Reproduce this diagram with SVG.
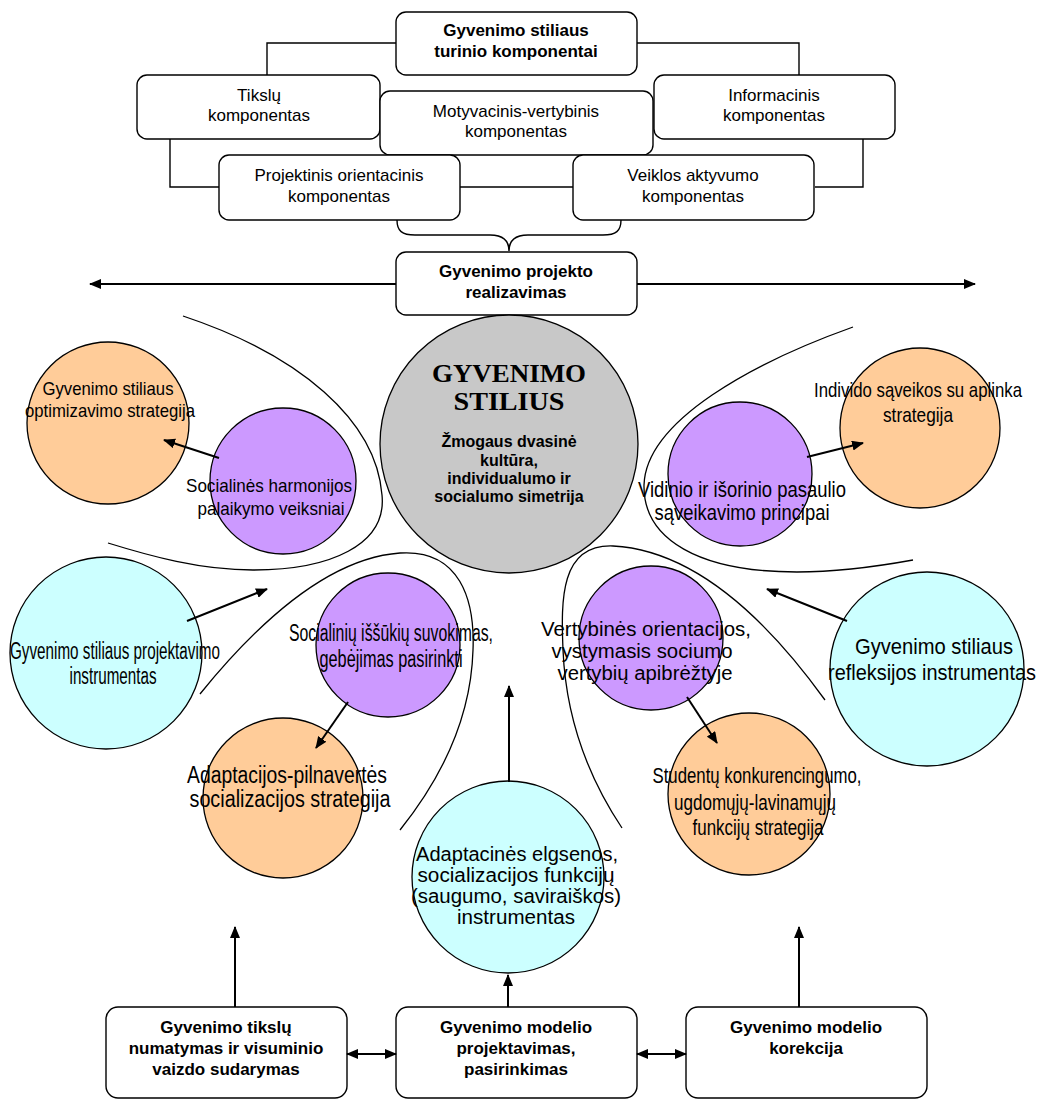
<svg xmlns="http://www.w3.org/2000/svg" width="1044" height="1102" viewBox="0 0 1044 1102">
<style>
.box{fill:#fff;stroke:#000;stroke-width:1.4}
.ln{fill:none;stroke:#000;stroke-width:1.4}
.cv{fill:none;stroke:#000;stroke-width:1.3}
.ar{fill:none;stroke:#000;stroke-width:2}
.c{stroke:#000;stroke-width:1.3}
.or{fill:#FFCC99}.pu{fill:#CC99FF}.cy{fill:#CCFFFF}.gr{fill:#C8C8C8}
text{font-family:"Liberation Sans",Arial,sans-serif;fill:#000;text-anchor:middle}
.bt{font-size:17px;font-weight:bold}
.rt{font-size:17px}
.ct{font-size:20px}
.big{font-family:"Liberation Serif","Times New Roman",serif;font-weight:bold;font-size:26px}
.sub{font-size:16px;font-weight:bold}
</style>
<defs>
<marker id="ah" viewBox="0 0 12 10" refX="11" refY="5" markerWidth="12" markerHeight="10" markerUnits="userSpaceOnUse" orient="auto-start-reverse"><path d="M0,0 L12,5 L0,10 z" fill="#000"/></marker>
</defs>

<g id="n-turinio"><rect class="box" x="396" y="12" width="241" height="63" rx="10"/>
<text class="bt" x="516" y="36">Gyvenimo stiliaus</text><text class="bt" x="516" y="57">turinio komponentai</text></g>
<g id="n-tikslu"><rect class="box" x="137" y="75" width="243" height="64" rx="10"/>
<text class="rt" x="259" y="101">Tikslų</text><text class="rt" x="259" y="121">komponentas</text></g>
<g id="n-informacinis"><rect class="box" x="654" y="75" width="241" height="64" rx="10"/>
<text class="rt" x="774" y="101">Informacinis</text><text class="rt" x="774" y="121">komponentas</text></g>
<g id="n-motyvacinis"><rect class="box" x="380" y="91" width="273" height="64" rx="10"/>
<text class="rt" x="516" y="117">Motyvacinis-vertybinis</text><text class="rt" x="516" y="137">komponentas</text></g>
<g id="n-projektinis"><rect class="box" x="219" y="155" width="241" height="65" rx="10"/>
<text class="rt" x="339" y="181">Projektinis orientacinis</text><text class="rt" x="339" y="202">komponentas</text></g>
<g id="n-veiklos"><rect class="box" x="573" y="155" width="241" height="65" rx="10"/>
<text class="rt" x="693" y="181">Veiklos aktyvumo</text><text class="rt" x="693" y="202">komponentas</text></g>
<g id="n-realizavimas"><rect class="box" x="396" y="252" width="241" height="63" rx="10"/>
<text class="bt" x="516" y="277">Gyvenimo projekto</text><text class="bt" x="516" y="298">realizavimas</text></g>

<g id="n-stilius"><circle class="c gr" cx="509" cy="444" r="129"/>
<text class="big" x="509" y="382" textLength="154" lengthAdjust="spacingAndGlyphs">GYVENIMO</text>
<text class="big" x="509" y="410" textLength="111" lengthAdjust="spacingAndGlyphs">STILIUS</text>
<text class="sub" x="509" y="447">Žmogaus dvasinė</text>
<text class="sub" x="509" y="466">kultūra,</text>
<text class="sub" x="509" y="484">individualumo ir</text>
<text class="sub" x="509" y="502">socialumo simetrija</text></g>

<g id="n-optimizavimo"><circle class="c or" cx="108" cy="423" r="81"/>
<text style="font-size:18.5px" x="108" y="395" textLength="131" lengthAdjust="spacingAndGlyphs">Gyvenimo stiliaus</text>
<text style="font-size:18.5px" x="110" y="417" textLength="170" lengthAdjust="spacingAndGlyphs">optimizavimo strategija</text></g>
<g id="n-harmonijos"><circle class="c pu" cx="283" cy="481" r="73"/>
<text style="font-size:19px" x="269" y="492" textLength="166" lengthAdjust="spacingAndGlyphs">Socialinės harmonijos</text>
<text style="font-size:19px" x="271" y="515" textLength="147" lengthAdjust="spacingAndGlyphs">palaikymo veiksniai</text></g>
<g id="n-vidinio"><circle class="c pu" cx="740" cy="474" r="72"/>
<text style="font-size:22.5px" x="742" y="497" textLength="208" lengthAdjust="spacingAndGlyphs">Vidinio ir išorinio pasaulio</text>
<text style="font-size:22.5px" x="742" y="520" textLength="175" lengthAdjust="spacingAndGlyphs">sąveikavimo principai</text></g>
<g id="n-individo"><circle class="c or" cx="920" cy="428" r="80"/>
<text style="font-size:21px" x="918" y="397" textLength="208" lengthAdjust="spacingAndGlyphs">Individo sąveikos su aplinka</text>
<text style="font-size:21px" x="918" y="422" textLength="70" lengthAdjust="spacingAndGlyphs">strategija</text></g>
<g id="n-projektavimo"><circle class="c cy" cx="106" cy="653" r="96"/>
<text style="font-size:23px" x="115" y="659" textLength="210" lengthAdjust="spacingAndGlyphs">Gyvenimo stiliaus projektavimo</text>
<text style="font-size:23px" x="113" y="684" textLength="87" lengthAdjust="spacingAndGlyphs">instrumentas</text></g>
<g id="n-issukiu"><circle class="c pu" cx="388" cy="645" r="72"/>
<text style="font-size:23px" x="391" y="641" textLength="204" lengthAdjust="spacingAndGlyphs">Socialinių iššūkių suvokimas,</text>
<text style="font-size:23px" x="391" y="667" textLength="143" lengthAdjust="spacingAndGlyphs">gebėjimas pasirinkti</text></g>
<g id="n-vertybines"><circle class="c pu" cx="651" cy="638" r="72"/>
<text class="ct" x="646" y="636" textLength="210" lengthAdjust="spacingAndGlyphs">Vertybinės orientacijos,</text>
<text class="ct" x="642" y="658" textLength="181" lengthAdjust="spacingAndGlyphs">vystymasis sociumo</text>
<text class="ct" x="645" y="680" textLength="175" lengthAdjust="spacingAndGlyphs">vertybių apibrėžtyje</text></g>
<g id="n-refleksijos"><circle class="c cy" cx="927" cy="669" r="97"/>
<text style="font-size:22px" x="934" y="654" textLength="158" lengthAdjust="spacingAndGlyphs">Gyvenimo stiliaus</text>
<text style="font-size:22px" x="932" y="680" textLength="208" lengthAdjust="spacingAndGlyphs">refleksijos instrumentas</text></g>
<g id="n-adaptacijos"><circle class="c or" cx="283" cy="798" r="80"/>
<text style="font-size:23px" x="287" y="783" textLength="200" lengthAdjust="spacingAndGlyphs">Adaptacijos-pilnavertės</text>
<text style="font-size:23px" x="290" y="807" textLength="201" lengthAdjust="spacingAndGlyphs">socializacijos strategija</text></g>
<g id="n-studentu"><circle class="c or" cx="749" cy="794" r="81"/>
<text style="font-size:22px" x="757" y="783" textLength="209" lengthAdjust="spacingAndGlyphs">Studentų konkurencingumo,</text>
<text style="font-size:22px" x="755" y="810" textLength="162" lengthAdjust="spacingAndGlyphs">ugdomųjų-lavinamųjų</text>
<text style="font-size:22px" x="758" y="835" textLength="131" lengthAdjust="spacingAndGlyphs">funkcijų strategija</text></g>
<g id="n-elgsenos"><circle class="c cy" cx="508" cy="877" r="96"/>
<text style="font-size:19.5px" x="517" y="861" textLength="202" lengthAdjust="spacingAndGlyphs">Adaptacinės elgsenos,</text>
<text style="font-size:19.5px" x="516" y="882" textLength="197" lengthAdjust="spacingAndGlyphs">socializacijos funkcijų</text>
<text style="font-size:19.5px" x="516" y="903" textLength="210" lengthAdjust="spacingAndGlyphs">(saugumo, saviraiškos)</text>
<text style="font-size:19.5px" x="516" y="924" textLength="118" lengthAdjust="spacingAndGlyphs">instrumentas</text></g>

<g id="n-tikslu-numatymas"><rect class="box" x="106" y="1007" width="241" height="91" rx="12"/>
<text class="bt" x="226" y="1033">Gyvenimo tikslų</text><text class="bt" x="226" y="1054">numatymas ir visuminio</text><text class="bt" x="226" y="1075">vaizdo sudarymas</text></g>
<g id="n-modelio-projektavimas"><rect class="box" x="396" y="1007" width="241" height="91" rx="12"/>
<text class="bt" x="516" y="1033">Gyvenimo modelio</text><text class="bt" x="516" y="1054">projektavimas,</text><text class="bt" x="516" y="1075">pasirinkimas</text></g>
<g id="n-korekcija"><rect class="box" x="686" y="1007" width="241" height="91" rx="12"/>
<text class="bt" x="806" y="1033">Gyvenimo modelio</text><text class="bt" x="806" y="1054">korekcija</text></g>

<g id="connectors">
<path class="ln" d="M396,43 H267 V75 M637,43 H799 V75 M170,139 V187 H219 M863,139 V187 H815 M460,187 H573"/>
<path class="ln" d="M397,220 C397,231 402,235 415,235 L490,235 C502,235 509,240 509,251 C509,240 516,235 528,235 L603,235 C616,235 621,231 621,220"/>
<line class="ar" x1="396" y1="284" x2="90" y2="284" marker-end="url(#ah)"/>
<line class="ar" x1="637" y1="284" x2="975" y2="284" marker-end="url(#ah)"/>
<path class="cv" d="M183,316 C300,355 376,420 382,495 C387,545 330,570 253,570 C200,570 150,556 108,543"/>
<path class="cv" d="M853,327 C755,362 646,420 644,485 C643,540 700,572 797,572 C840,572 880,566 913,560"/>
<path class="cv" d="M200,694 C260,620 330,558 400,553 C460,549 475,600 473,650 C471,720 440,780 400,830"/>
<path class="cv" d="M825,700 C760,610 690,550 613,546 C560,544 561,600 563,650 C566,720 590,780 622,828"/>
<line class="ar" x1="219" y1="458" x2="164" y2="440" marker-end="url(#ah)"/>
<line class="ar" x1="187" y1="621" x2="267" y2="589" marker-end="url(#ah)"/>
<line class="ar" x1="348" y1="702" x2="316" y2="748" marker-end="url(#ah)"/>
<line class="ar" x1="509" y1="782" x2="509" y2="686" marker-end="url(#ah)"/>
<line class="ar" x1="687" y1="697" x2="717" y2="743" marker-end="url(#ah)"/>
<line class="ar" x1="847" y1="621" x2="767" y2="589" marker-end="url(#ah)"/>
<line class="ar" x1="807" y1="457" x2="863" y2="443" marker-end="url(#ah)"/>
<line class="ar" x1="235" y1="1007" x2="235" y2="927" marker-end="url(#ah)"/>
<line class="ar" x1="508" y1="1007" x2="508" y2="975" marker-end="url(#ah)"/>
<line class="ar" x1="799" y1="1007" x2="799" y2="927" marker-end="url(#ah)"/>
<line class="ar" x1="347" y1="1054" x2="396" y2="1054" marker-start="url(#ah)" marker-end="url(#ah)"/>
<line class="ar" x1="637" y1="1054" x2="686" y2="1054" marker-start="url(#ah)" marker-end="url(#ah)"/>
</g>
</svg>
